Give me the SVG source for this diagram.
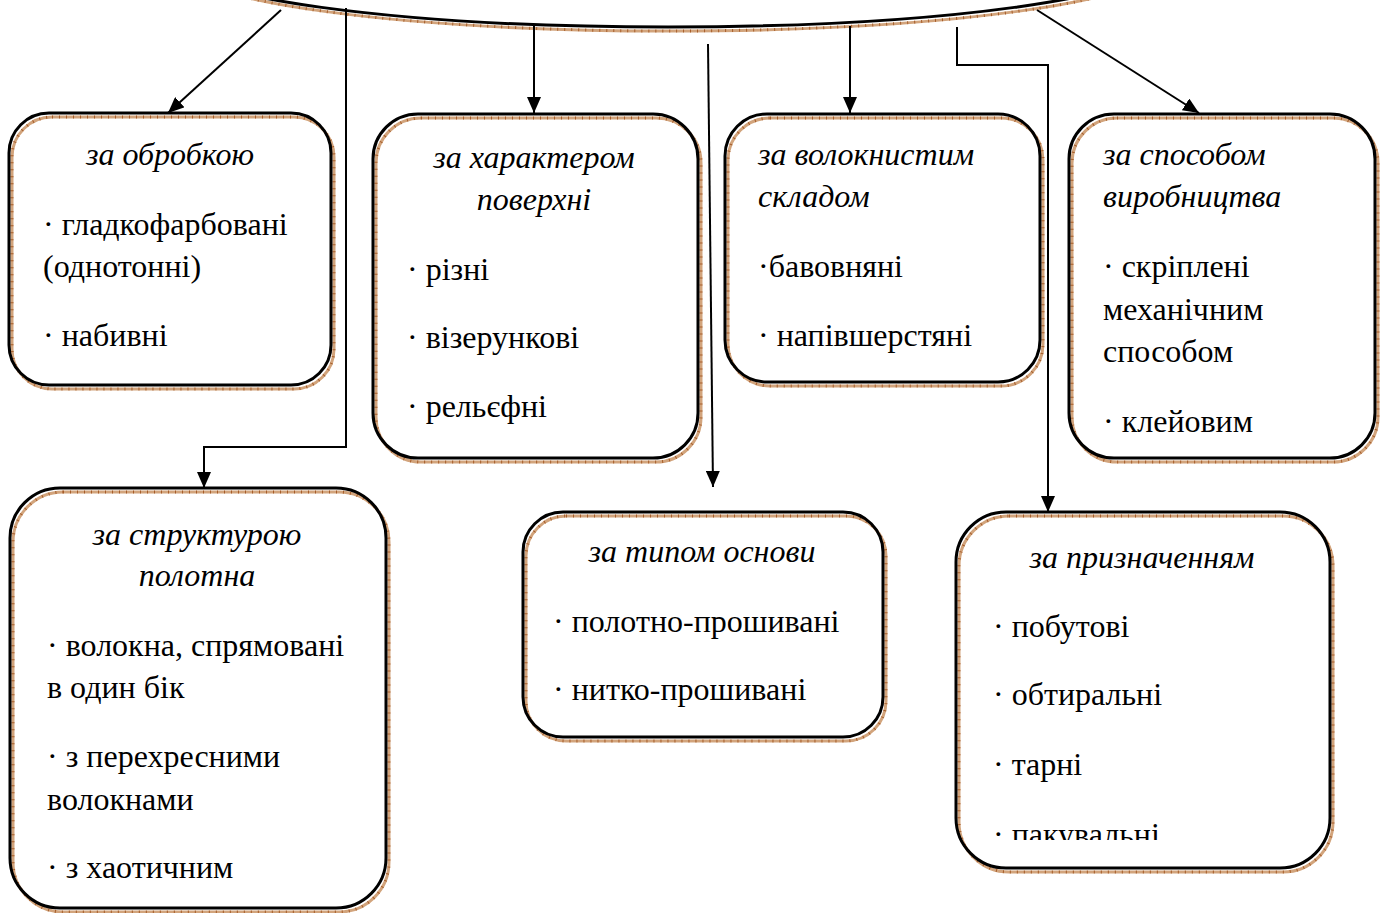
<svg xmlns="http://www.w3.org/2000/svg" width="1386" height="913" viewBox="0 0 1386 913">
<defs>
<style>
.bg{fill:#ffffff}
.brown{fill:none;stroke:#d2a47c;stroke-width:3}
.tick{fill:none;stroke:#a65d2a;stroke-width:3;stroke-dasharray:1 6}
.black{fill:none;stroke:#000000;stroke-width:3}
.conn{fill:none;stroke:#000000;stroke-width:2}
.hd{font-family:"Liberation Serif","Times New Roman",serif;font-style:italic;font-size:32px;fill:#000}
.tx{font-family:"Liberation Serif","Times New Roman",serif;font-size:32px;fill:#000}
.c{text-anchor:middle}
</style>
<marker id="arr" viewBox="0 0 16 14" refX="16" refY="7" markerWidth="16" markerHeight="14" markerUnits="userSpaceOnUse" orient="auto">
<path d="M0,0 L16,7 L0,14 z" fill="#000"/>
</marker>
<clipPath id="clip7"><rect x="956" y="512" width="374" height="328"/></clipPath>
</defs>
<rect class="bg" x="0" y="0" width="1386" height="913"/>

<g id="top-ellipse">
<ellipse class="brown" cx="671" cy="-36" rx="490" ry="67"/>
<ellipse class="tick" cx="671" cy="-36" rx="490" ry="67"/>
<ellipse class="black" cx="668" cy="-40" rx="490" ry="67"/>
</g>

<g id="connectors">
<path class="conn" d="M281,10 L168,113" marker-end="url(#arr)"/>
<path class="conn" d="M346,8 L346,447 L204,447 L204,488" marker-end="url(#arr)"/>
<path class="conn" d="M534,24 L534,113" marker-end="url(#arr)"/>
<path class="conn" d="M708,44 L713,487" marker-end="url(#arr)"/>
<path class="conn" d="M850,26 L850,113" marker-end="url(#arr)"/>
<path class="conn" d="M957,27 L957,65 L1048,65 L1048,512" marker-end="url(#arr)"/>
<path class="conn" d="M1037,10 L1199,113" marker-end="url(#arr)"/>
</g>

<g id="node-obrobka">
<rect class="brown" x="12" y="117" width="322" height="272" rx="40"/>
<rect class="tick" x="12" y="117" width="322" height="272" rx="40"/>
<rect class="black" x="9" y="113" width="322" height="272" rx="40"/>
<text class="hd c" x="170" y="165">за обробкою</text>
<text class="tx" x="43" y="235">· гладкофарбовані</text>
<text class="tx" x="43" y="277">(однотонні)</text>
<text class="tx" x="43" y="346">· набивні</text>
</g>

<g id="node-poverkhnia">
<rect class="brown" x="376" y="118" width="325" height="344" rx="45"/>
<rect class="tick" x="376" y="118" width="325" height="344" rx="45"/>
<rect class="black" x="373" y="114" width="325" height="344" rx="45"/>
<text class="hd c" x="534" y="168">за характером</text>
<text class="hd c" x="534" y="210">поверхні</text>
<text class="tx" x="407" y="280">· різні</text>
<text class="tx" x="407" y="348">· візерункові</text>
<text class="tx" x="407" y="417">· рельєфні</text>
</g>

<g id="node-sklad">
<rect class="brown" x="728" y="118" width="315" height="268" rx="42"/>
<rect class="tick" x="728" y="118" width="315" height="268" rx="42"/>
<rect class="black" x="725" y="114" width="315" height="268" rx="42"/>
<text class="hd" x="758" y="165">за волокнистим</text>
<text class="hd" x="758" y="207">складом</text>
<text class="tx" x="758" y="277">·бавовняні</text>
<text class="tx" x="758" y="346">· напівшерстяні</text>
</g>

<g id="node-vyrobnytstvo">
<rect class="brown" x="1072" y="118" width="306" height="344" rx="45"/>
<rect class="tick" x="1072" y="118" width="306" height="344" rx="45"/>
<rect class="black" x="1069" y="114" width="306" height="344" rx="45"/>
<text class="hd" x="1103" y="165">за способом</text>
<text class="hd" x="1103" y="207">виробництва</text>
<text class="tx" x="1103" y="277">· скріплені</text>
<text class="tx" x="1103" y="320">механічним</text>
<text class="tx" x="1103" y="362">способом</text>
<text class="tx" x="1103" y="432">· клейовим</text>
</g>

<g id="node-struktura">
<rect class="brown" x="13" y="492" width="376" height="420" rx="50"/>
<rect class="tick" x="13" y="492" width="376" height="420" rx="50"/>
<rect class="black" x="10" y="488" width="376" height="420" rx="50"/>
<text class="hd c" x="197" y="545">за структурою</text>
<text class="hd c" x="197" y="586">полотна</text>
<text class="tx" x="47" y="656">· волокна, спрямовані</text>
<text class="tx" x="47" y="698">в один бік</text>
<text class="tx" x="47" y="767">· з перехресними</text>
<text class="tx" x="47" y="810">волокнами</text>
<text class="tx" x="47" y="878">· з хаотичним</text>
</g>

<g id="node-osnova">
<rect class="brown" x="526" y="516" width="360" height="225" rx="40"/>
<rect class="tick" x="526" y="516" width="360" height="225" rx="40"/>
<rect class="black" x="523" y="512" width="360" height="225" rx="40"/>
<text class="hd c" x="702" y="562">за типом основи</text>
<text class="tx" x="553" y="632">· полотно-прошивані</text>
<text class="tx" x="553" y="700">· нитко-прошивані</text>
</g>

<g id="node-pryznachennia">
<rect class="brown" x="959" y="516" width="374" height="356" rx="50"/>
<rect class="tick" x="959" y="516" width="374" height="356" rx="50"/>
<rect class="black" x="956" y="512" width="374" height="356" rx="50"/>
<text class="hd c" x="1142" y="568">за призначенням</text>
<text class="tx" x="993" y="637">· побутові</text>
<text class="tx" x="993" y="705">· обтиральні</text>
<text class="tx" x="993" y="775">· тарні</text>
<text class="tx" x="993" y="845" clip-path="url(#clip7)">· пакувальні</text>
</g>
</svg>
